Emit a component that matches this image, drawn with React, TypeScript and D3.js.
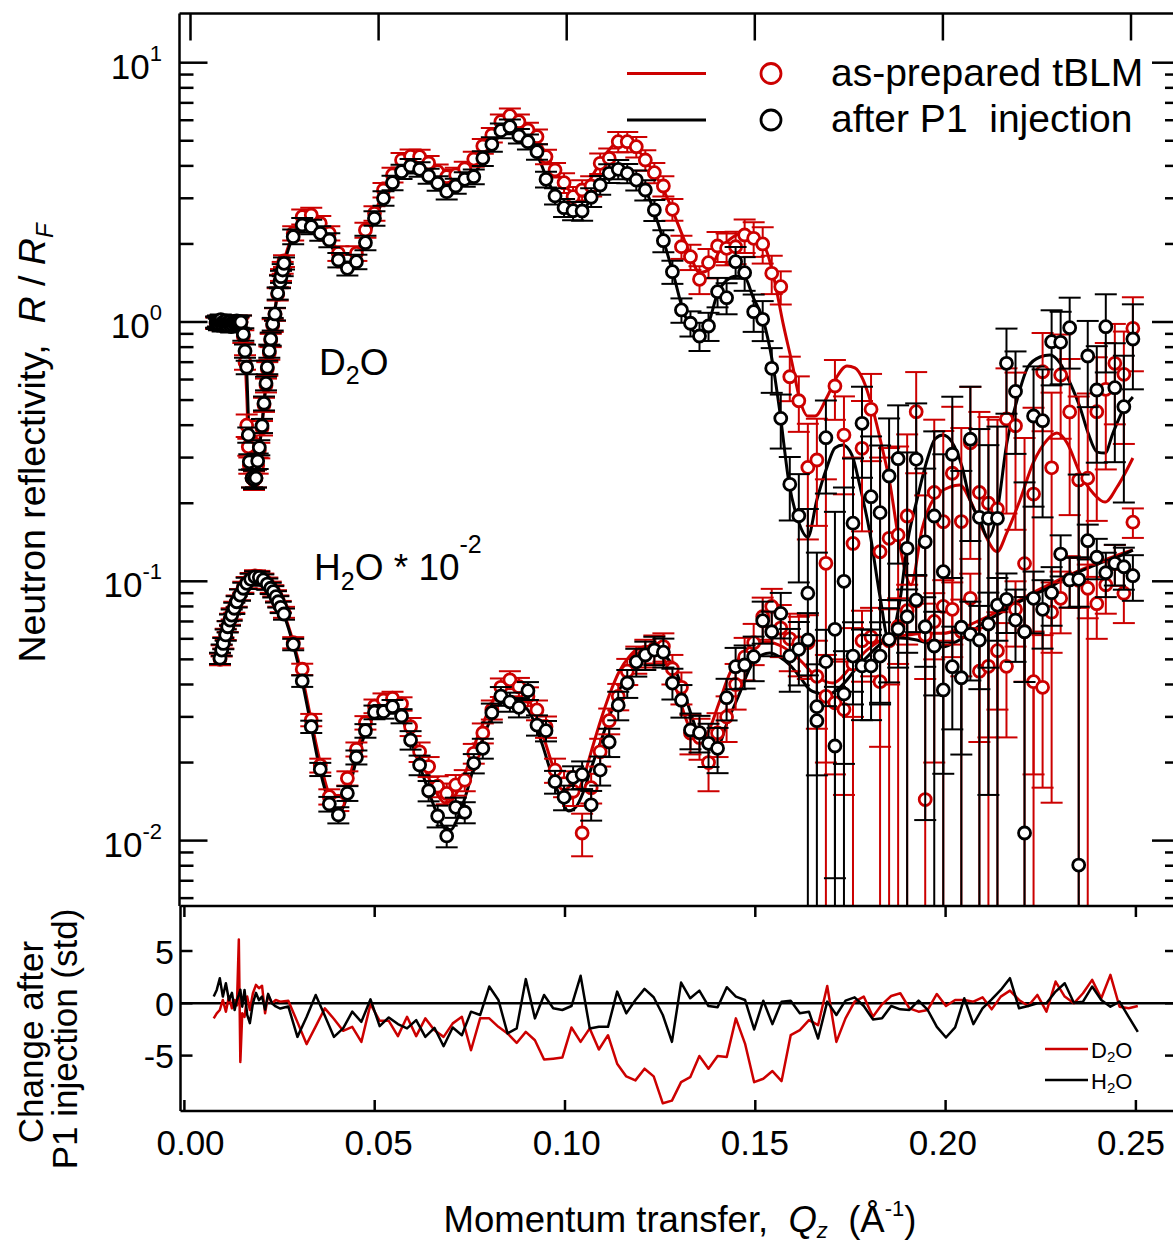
import React from "react";
import * as d3 from "d3";

// ---------------- DATA ----------------
// Momentum transfer grid shared by both contrasts (Å^-1)
const qGrid = [
  0.0273, 0.0297, 0.0321, 0.0345, 0.0369, 0.0393, 0.0417, 0.0441, 0.0465, 0.0489,
  0.0513, 0.0537, 0.0561, 0.0585, 0.0609, 0.0633, 0.0657, 0.0681, 0.0705, 0.0729,
  0.0753, 0.0777, 0.0801, 0.0825, 0.0849, 0.0873, 0.0897, 0.0921, 0.0945, 0.0969,
  0.0993, 0.1017, 0.1041, 0.1065, 0.1089, 0.1113, 0.1137, 0.1161, 0.1185, 0.1209,
  0.1233, 0.1257, 0.1281, 0.1305, 0.1329, 0.1353, 0.1377, 0.1401, 0.1425, 0.1449,
  0.1473, 0.1497, 0.1521, 0.1545, 0.1569, 0.1593, 0.1617, 0.1641, 0.1665, 0.1689,
  0.1713, 0.1737, 0.1761, 0.1785, 0.1809, 0.1833, 0.1857, 0.1881, 0.1905, 0.1929,
  0.1953, 0.1977, 0.2001, 0.2025, 0.2049, 0.2073, 0.2097, 0.2121, 0.2145, 0.2169,
  0.2193, 0.2217, 0.2241, 0.2265, 0.2289, 0.2313, 0.2337, 0.2361, 0.2385, 0.2409,
  0.2433, 0.2457, 0.2481, 0.2505,
];

// D2O low-Q points (critical-edge region)
const qD2OLow = [
  0.0068, 0.00705, 0.0073, 0.00755, 0.0078, 0.00805, 0.0083, 0.00855, 0.0088, 0.00905,
  0.0093, 0.00955, 0.0098, 0.01005, 0.0103, 0.01055, 0.0108, 0.01105, 0.0113, 0.01155,
  0.0118, 0.01205, 0.0123, 0.01255, 0.0128,
  0.01343, 0.01404, 0.01449, 0.01494, 0.01536, 0.01563, 0.01635, 0.01688, 0.01741, 0.01786,
  0.01829, 0.01901, 0.01954, 0.02007, 0.02041, 0.02095, 0.02132, 0.02185, 0.02246, 0.02318,
  0.02379, 0.02406, 0.02451, 0.02485,
];
const d2oAfterLow = [
  1.0, 0.99, 1.01, 0.98, 1.0, 1.02, 0.99, 0.97, 1.0, 0.98,
  1.01, 0.99, 0.97, 0.99, 1.0, 0.98, 0.96, 0.99, 0.97, 1.0,
  0.98, 0.99, 1.01, 0.99, 1.0,
  1.0, 0.897, 0.773, 0.669, 0.367, 0.289, 0.25, 0.247, 0.25, 0.291,
  0.328, 0.398, 0.486, 0.58, 0.669, 0.773, 0.86, 0.982, 1.074, 1.29,
  1.43, 1.495, 1.587, 1.684,
];
const d2oPrepLow = [
  0.99, 1.0, 1.0, 0.99, 1.01, 1.0, 0.98, 0.99, 1.0, 0.99,
  0.98, 1.0, 0.98, 1.0, 0.99, 0.97, 0.98, 1.0, 0.98, 0.99,
  0.99, 1.0, 1.0, 0.98, 0.99,
  1.0, 0.88, 0.7, 0.4, 0.33, 0.28, 0.25, 0.245, 0.25, 0.28,
  0.32, 0.39, 0.48, 0.57, 0.66, 0.76, 0.85, 0.97, 1.07, 1.28,
  1.44, 1.52, 1.62, 1.72,
];
const d2oLowErr = [
  0.05, 0.05, 0.05, 0.05, 0.05, 0.05, 0.05, 0.05, 0.05, 0.05,
  0.05, 0.05, 0.05, 0.05, 0.05, 0.05, 0.05, 0.05, 0.05, 0.05,
  0.05, 0.05, 0.05, 0.05, 0.05,
  0.06, 0.05, 0.045, 0.04, 0.025, 0.02, 0.02, 0.02, 0.02, 0.02,
  0.022, 0.025, 0.03, 0.035, 0.04, 0.045, 0.05, 0.055, 0.06, 0.07,
  0.08, 0.08, 0.085, 0.09,
];

const d2oAfter = [
  2.133, 2.366, 2.331, 2.198, 2.071, 1.734, 1.611, 1.708, 2.022, 2.512,
  3.0, 3.445, 3.8, 3.996, 3.88, 3.656, 3.426, 3.18, 3.345, 3.55,
  3.635, 4.28, 4.845, 5.47, 5.665, 5.215, 4.96, 4.537, 3.55, 3.062,
  2.76, 2.687, 2.68, 3.027, 3.376, 3.745, 3.88, 3.745, 3.528, 3.229,
  2.704, 2.058, 1.563, 1.113, 0.989, 0.883, 0.965, 1.309, 1.241, 1.708,
  1.549, 1.096, 1.024, 0.663, 0.425, 0.2366, 0.179, 0.09, 0.029, 0.358,
  0.0653, 0.1, 0.1675, 0.4068, 0.212, 0.184, 0.2547, 0.297, 0.134, 0.2954,
  0.142, 0.1786, 0.1089, 0.309, 0.0665, 0.353, 0.1765, 0.175, 0.175, 0.693,
  0.54, 0.0107, 0.434, 0.4164, 0.8396, 0.835, 0.951, 0.00805, 0.7395, 0.5467,
  0.959, 0.558, 0.4713, 0.86,
];
const d2oAfterErr = [
  0.14, 0.15, 0.15, 0.14, 0.13, 0.11, 0.1, 0.11, 0.13, 0.16,
  0.19, 0.22, 0.24, 0.26, 0.25, 0.24, 0.22, 0.21, 0.22, 0.23,
  0.24, 0.28, 0.31, 0.36, 0.37, 0.34, 0.33, 0.31, 0.25, 0.22,
  0.22, 0.22, 0.22, 0.25, 0.28, 0.31, 0.33, 0.32, 0.31, 0.29,
  0.25, 0.2, 0.16, 0.12, 0.11, 0.11, 0.12, 0.17, 0.17, 0.24,
  0.23, 0.18, 0.18, 0.13, 0.1, 0.065, 0.08, 0.1, 0.1, 0.14,
  0.12, 0.13, 0.13, 0.156, 0.15, 0.15, 0.17, 0.18, 0.18, 0.19,
  0.13, 0.2, 0.2, 0.206, 0.2, 0.21, 0.21, 0.16, 0.22, 0.25,
  0.23, 0.23, 0.24, 0.24, 0.27, 0.26, 0.29, 0.25, 0.27, 0.26,
  0.32, 0.27, 0.27, 0.31,
];
const d2oPrep = [
  2.2, 2.547, 2.586, 2.402, 2.2, 1.84, 1.734, 1.84, 2.263, 2.627,
  3.229, 3.69, 4.21, 4.35, 4.34, 4.1, 3.8, 3.635, 3.69, 3.9,
  4.25, 4.77, 5.26, 5.924, 6.246, 5.924, 5.502, 5.184, 4.34, 3.857,
  3.445, 3.043, 3.229, 3.345, 4.093, 4.28, 4.96, 4.96, 4.743, 4.214,
  3.766, 3.345, 2.72, 1.951, 1.786, 1.461, 1.693, 1.964, 1.924, 1.951,
  2.165, 2.103, 2.0, 1.541, 1.368, 0.615, 0.497, 0.275, 0.2936, 0.1173,
  0.5665, 0.3665, 0.14, 0.3258, 0.4606, 0.13, 0.1465, 0.151, 0.1786, 0.451,
  0.0144, 0.22, 0.1698, 0.261, 0.17, 0.342, 0.22, 0.2, 0.19, 0.4225,
  0.398, 0.117, 0.217, 0.643, 0.274, 0.6246, 0.45, 0.246, 0.25, 0.451,
  0.55, 0.693, 0.6286, 0.9456,
];
const d2oPrepErr = [
  0.14, 0.17, 0.17, 0.16, 0.14, 0.12, 0.11, 0.12, 0.15, 0.17,
  0.21, 0.24, 0.27, 0.28, 0.28, 0.27, 0.25, 0.24, 0.24, 0.25,
  0.28, 0.31, 0.34, 0.39, 0.41, 0.39, 0.36, 0.34, 0.28, 0.25,
  0.3, 0.27, 0.29, 0.3, 0.37, 0.39, 0.45, 0.45, 0.43, 0.38,
  0.34, 0.3, 0.26, 0.2, 0.2, 0.18, 0.22, 0.26, 0.27, 0.28,
  0.32, 0.32, 0.32, 0.26, 0.2, 0.12, 0.12, 0.13, 0.13, 0.13,
  0.147, 0.15, 0.16, 0.17, 0.17, 0.17, 0.18, 0.18, 0.19, 0.19,
  0.2, 0.2, 0.21, 0.21, 0.22, 0.22, 0.23, 0.23, 0.23, 0.24,
  0.24, 0.24, 0.25, 0.264, 0.26, 0.27, 0.27, 0.27, 0.28, 0.28,
  0.28, 0.29, 0.29, 0.3,
];

// H2O contrast (raw R/RF; plotted × 10^-2)
const H2O_FACTOR = 1e-2;
const qH2OLow = [
  0.00784, 0.00829, 0.00872, 0.00936, 0.00989, 0.0105, 0.01095, 0.01164, 0.01228, 0.01316,
  0.01404, 0.01494, 0.016, 0.01714, 0.01829, 0.01935, 0.02041, 0.02132, 0.02201, 0.02273,
  0.02334, 0.02398, 0.02485,
];
const h2oAfterLow = [
  5.05, 5.43, 5.76, 6.21, 6.68, 7.09, 7.41, 7.87, 8.34, 8.85,
  9.4, 9.82, 10.18, 10.41, 10.36, 10.12, 9.76, 9.4, 9.12, 8.72,
  8.34, 7.94, 7.48,
];
const h2oPrepLow = [
  5.0, 5.4, 5.8, 6.25, 6.7, 7.15, 7.5, 7.95, 8.4, 8.9,
  9.5, 9.9, 10.25, 10.5, 10.45, 10.2, 9.85, 9.5, 9.2, 8.8,
  8.4, 8.0, 7.6,
];
const h2oLowErr = [
  0.25, 0.27, 0.29, 0.31, 0.33, 0.35, 0.37, 0.39, 0.42, 0.44,
  0.47, 0.49, 0.51, 0.52, 0.52, 0.51, 0.49, 0.47, 0.46, 0.44,
  0.42, 0.4, 0.37,
];
const h2oAfter = [
  5.71, 4.125, 2.75, 1.884, 1.384, 1.255, 1.522, 2.096, 2.653, 3.127,
  3.143, 3.285, 3.023, 2.443, 1.957, 1.557, 1.244, 1.042, 1.344, 1.286,
  1.986, 2.27, 3.115, 3.61, 3.43, 3.266, 3.786, 2.79, 2.653, 1.687,
  1.469, 1.754, 1.8, 1.374, 1.87, 2.4, 3.33, 4.05, 4.89, 5.2,
  5.43, 5.33, 4.05, 3.48, 2.67, 2.607, 2.372, 2.27, 3.557, 4.685,
  4.756, 5.119, 7.047, 6.39, 7.52, 5.15, 5.467, 5.937, 3.285, 4.9,
  2.316, 3.676, 5.15, 4.714, 4.714, 5.15, 5.975, 6.546, 7.3, 8.47,
  6.68, 5.63, 3.81, 4.685, 4.247, 6.245, 5.937, 6.843, 8.1, 8.52,
  7.09, 6.39, 8.6, 7.8, 9.04, 12.74, 10.12, 10.18, 14.34, 12.38,
  10.79, 11.73, 11.38, 10.51,
];
const h2oAfterErr = [
  0.29, 0.21, 0.15, 0.11, 0.09, 0.09, 0.1, 0.13, 0.16, 0.19,
  0.19, 0.2, 0.19, 0.2, 0.17, 0.14, 0.12, 0.1, 0.12, 0.12,
  0.17, 0.2, 0.26, 0.3, 0.29, 0.28, 0.3, 0.25, 0.24, 0.17,
  0.16, 0.18, 0.22, 0.18, 0.24, 0.3, 0.42, 0.5, 0.6, 0.65,
  0.68, 0.68, 0.55, 0.5, 0.42, 0.42, 0.45, 0.45, 0.65, 0.85,
  0.9, 1.0, 1.3, 1.25, 1.5, 1.4, 1.5, 1.6, 1.5, 1.6,
  1.6, 1.7, 1.8, 1.8, 1.8, 1.8, 1.9, 1.9, 2.0, 2.1,
  2.0, 2.0, 2.0, 2.0, 2.1, 2.1, 2.1, 2.2, 2.2, 2.2,
  2.2, 2.3, 2.3, 2.3, 2.3, 2.3, 2.2, 2.2, 2.2, 2.2,
  2.1, 2.1, 2.1, 2.1,
];
const h2oPrep = [
  5.8, 4.58, 2.92, 1.95, 1.477, 1.4, 1.74, 2.25, 2.85, 3.3,
  3.485, 3.54, 3.37, 2.75, 2.2, 1.93, 1.62, 1.52, 1.64, 1.71,
  2.17, 2.6, 3.2, 3.9, 4.17, 3.92, 3.6, 3.19, 2.75, 1.87,
  1.66, 1.55, 1.07, 1.6, 2.2, 2.9, 3.6, 4.5, 5.0, 5.3,
  5.5, 5.6, 4.6, 3.9, 2.6, 2.5, 2.0, 2.6, 3.0, 4.0,
  5.1, 5.8, 7.3, 8.0, 6.6, 6.0, 5.8, 5.8, 4.3, 3.6,
  3.4, 3.2, 4.8, 5.9, 6.1, 4.1, 5.9, 6.7, 7.7, 8.4,
  6.2, 7.0, 8.0, 7.8, 6.4, 8.6, 4.5, 4.7, 5.4, 4.7,
  7.8, 6.4, 4.1, 3.9, 7.6, 8.6, 10.2, 10.1, 9.4, 8.2,
  9.7, 11.7, 9.0, 16.9,
];
const h2oPrepErr = [
  0.29, 0.23, 0.16, 0.12, 0.1, 0.1, 0.11, 0.14, 0.17, 0.2,
  0.21, 0.21, 0.2, 0.22, 0.19, 0.17, 0.15, 0.14, 0.15, 0.16,
  0.19, 0.23, 0.27, 0.32, 0.33, 0.32, 0.3, 0.28, 0.26, 0.2,
  0.19, 0.19, 0.2, 0.21, 0.27, 0.33, 0.42, 0.52, 0.6, 0.65,
  0.68, 0.7, 0.6, 0.55, 0.45, 0.45, 0.45, 0.5, 0.6, 0.8,
  0.95, 1.05, 1.35, 1.35, 1.5, 1.5, 1.5, 1.6, 1.6, 1.6,
  1.6, 1.7, 1.8, 1.8, 1.8, 1.8, 1.9, 1.9, 2.0, 2.1,
  2.0, 2.0, 2.1, 2.1, 2.1, 2.1, 2.1, 2.2, 2.2, 2.2,
  2.2, 2.3, 2.3, 2.3, 2.3, 2.3, 2.3, 2.2, 2.2, 2.2,
  2.2, 2.1, 2.1, 2.2,
];

// Model fits
const fitD2OAfterQ = [
  0.0068, 0.01, 0.0125, 0.0134, 0.014, 0.0145, 0.015, 0.0154, 0.0158, 0.0163,
  0.0168, 0.0174, 0.018, 0.019, 0.02, 0.021, 0.022, 0.023, 0.024, 0.025,
  0.0265, 0.028, 0.03, 0.032, 0.0345, 0.037, 0.0395, 0.0417, 0.044, 0.0465,
  0.049, 0.0515, 0.054, 0.0565, 0.0585, 0.061, 0.0635, 0.066, 0.068, 0.07,
  0.073, 0.0755, 0.078, 0.0805, 0.083, 0.085, 0.0875, 0.09, 0.0925, 0.095,
  0.0975, 0.1, 0.1025, 0.1045, 0.1065, 0.109, 0.1115, 0.114, 0.1165, 0.119,
  0.1215, 0.1235, 0.126, 0.1285, 0.131, 0.1335, 0.1355, 0.1375, 0.1402, 0.1426,
  0.145, 0.1474, 0.1495, 0.1522, 0.1546, 0.1567, 0.1591, 0.1615, 0.1641, 0.1665,
  0.1692, 0.1713, 0.1734, 0.1758, 0.178, 0.1806, 0.1833, 0.1856, 0.1886, 0.1907,
  0.1931, 0.1958, 0.1979, 0.2, 0.2024, 0.2051, 0.2072, 0.2099, 0.212, 0.2144,
  0.217, 0.2197, 0.2226, 0.2258, 0.2285, 0.2311, 0.2338, 0.2365, 0.2386, 0.241,
  0.2431, 0.2452, 0.2479, 0.2505,
];
const fitD2OAfterR = [
  1.0, 0.995, 0.99, 0.975, 0.9, 0.78, 0.62, 0.42, 0.3, 0.255,
  0.245, 0.255, 0.3, 0.4, 0.57, 0.78, 1.0, 1.25, 1.5, 1.7,
  2.0, 2.22, 2.33, 2.3, 2.18, 2.0, 1.75, 1.64, 1.72, 2.0,
  2.5, 3.0, 3.45, 3.8, 3.95, 3.87, 3.65, 3.4, 3.25, 3.3,
  3.5, 3.75, 4.25, 4.85, 5.4, 5.6, 5.3, 4.9, 4.3, 3.5,
  3.0, 2.75, 2.6, 2.7, 3.0, 3.4, 3.75, 3.85, 3.75, 3.5,
  3.1, 2.6, 2.0, 1.5, 1.1, 0.93, 0.88, 0.97, 1.3, 1.45,
  1.5, 1.48, 1.25, 1.02, 0.714, 0.446, 0.239, 0.172, 0.148, 0.206,
  0.276, 0.3266, 0.3354, 0.307, 0.231, 0.1536, 0.087, 0.0595, 0.0847, 0.1443,
  0.206, 0.2936, 0.3538, 0.3666, 0.3445, 0.276, 0.206, 0.172, 0.147, 0.185,
  0.3415, 0.5, 0.67, 0.733, 0.746, 0.695, 0.582, 0.466, 0.373, 0.315,
  0.3125, 0.373, 0.458, 0.514,
];
const fitD2OPrepQ = [
  0.0068, 0.01, 0.0125, 0.0134, 0.014, 0.0145, 0.015, 0.0154, 0.0158, 0.0163,
  0.0168, 0.0174, 0.018, 0.019, 0.02, 0.021, 0.022, 0.023, 0.024, 0.025,
  0.0265, 0.028, 0.03, 0.032, 0.0345, 0.037, 0.0395, 0.0417, 0.044, 0.0465,
  0.049, 0.0515, 0.054, 0.0565, 0.059, 0.0615, 0.064, 0.0665, 0.0685, 0.0705,
  0.073, 0.0755, 0.078, 0.0805, 0.083, 0.085, 0.0875, 0.09, 0.0925, 0.095,
  0.0975, 0.1, 0.1025, 0.1045, 0.107, 0.1095, 0.112, 0.1145, 0.117, 0.1195,
  0.122, 0.1245, 0.127, 0.1295, 0.132, 0.1354, 0.138, 0.1408, 0.1443, 0.148,
  0.1509, 0.1533, 0.1554, 0.1575, 0.1599, 0.162, 0.1641, 0.166, 0.1692, 0.1718,
  0.1745, 0.1766, 0.1788, 0.1814, 0.1838, 0.1859, 0.1881, 0.1915, 0.1945, 0.1974,
  0.2019, 0.2045, 0.2072, 0.2106, 0.2144, 0.217, 0.2205, 0.224, 0.2277, 0.2303,
  0.233, 0.2364, 0.2399, 0.2431, 0.2463, 0.2505,
];
const fitD2OPrepR = [
  1.0, 0.995, 0.99, 0.975, 0.88, 0.72, 0.5, 0.35, 0.28, 0.25,
  0.245, 0.255, 0.3, 0.4, 0.57, 0.78, 1.0, 1.26, 1.52, 1.75,
  2.05, 2.35, 2.52, 2.52, 2.38, 2.12, 1.86, 1.76, 1.84, 2.2,
  2.65, 3.2, 3.7, 4.1, 4.3, 4.28, 4.05, 3.78, 3.66, 3.72,
  3.95, 4.3, 4.8, 5.35, 5.9, 6.15, 5.95, 5.5, 5.0, 4.3,
  3.75, 3.3, 3.1, 3.25, 3.7, 4.25, 4.75, 4.95, 4.85, 4.5,
  4.0, 3.5, 2.95, 2.4, 1.95, 1.55, 1.6, 1.9, 2.13, 2.22,
  2.13, 1.85, 1.41, 0.99, 0.695, 0.5, 0.434, 0.434, 0.514, 0.614,
  0.677, 0.665, 0.598, 0.458, 0.33, 0.239, 0.15, 0.097, 0.16, 0.206,
  0.231, 0.235, 0.206, 0.158, 0.13, 0.154, 0.206, 0.286, 0.351, 0.373,
  0.342, 0.262, 0.219, 0.202, 0.231, 0.299,
];
const fitH2OAfterQ = [
  0.0078, 0.009, 0.0105, 0.012, 0.0135, 0.015, 0.0165, 0.0178, 0.019, 0.0205,
  0.022, 0.0235, 0.025, 0.0273, 0.0297, 0.0321, 0.0345, 0.0369, 0.0385, 0.04,
  0.042, 0.0441, 0.0465, 0.0489, 0.0513, 0.0537, 0.0561, 0.0585, 0.0609, 0.0633,
  0.0657, 0.0675, 0.0692, 0.071, 0.0735, 0.076, 0.0785, 0.081, 0.0835, 0.086,
  0.0885, 0.091, 0.0935, 0.096, 0.0985, 0.1005, 0.1025, 0.1045, 0.1065, 0.109,
  0.1115, 0.114, 0.1165, 0.119, 0.1215, 0.124, 0.1265, 0.129, 0.1315, 0.134,
  0.136, 0.138, 0.1402, 0.1426, 0.146, 0.1487, 0.1508, 0.154, 0.1567, 0.1593,
  0.162, 0.1647, 0.1668, 0.1692, 0.1718, 0.1745, 0.1772, 0.1798, 0.1825, 0.1851,
  0.1886, 0.1931, 0.1974, 0.2, 0.2027, 0.2064, 0.2107, 0.2152, 0.2197, 0.224,
  0.2285, 0.233, 0.2372, 0.2418, 0.2463, 0.2505,
];
const fitH2OAfterR = [
  5.0, 5.9, 7.1, 8.2, 9.1, 9.8, 10.3, 10.4, 10.2, 9.75,
  9.1, 8.2, 7.3, 5.7, 4.1, 2.75, 1.85, 1.4, 1.28, 1.3,
  1.55, 2.05, 2.6, 3.05, 3.2, 3.2, 2.95, 2.45, 1.95, 1.55,
  1.25, 1.12, 1.1, 1.22, 1.55, 2.1, 2.65, 3.2, 3.45, 3.5,
  3.35, 2.95, 2.35, 1.8, 1.45, 1.3, 1.35, 1.55, 1.9, 2.4,
  3.05, 3.8, 4.5, 5.0, 5.3, 5.35, 5.1, 4.5, 3.6, 2.8,
  2.4, 2.25, 2.3, 2.84, 3.71, 4.63, 5.1, 5.29, 5.1, 4.755,
  4.276, 3.81, 3.71, 3.643, 3.81, 4.163, 4.67, 5.1, 5.58, 5.94,
  6.04, 5.94, 5.68, 5.58, 5.77, 6.2, 6.9, 7.54, 8.25, 8.86,
  9.5, 10.39, 11.05, 11.76, 12.4, 13.2,
];
const fitH2OPrepQ = [
  0.0078, 0.009, 0.0105, 0.012, 0.0135, 0.015, 0.0165, 0.0178, 0.019, 0.0205,
  0.022, 0.0235, 0.025, 0.0273, 0.0297, 0.0321, 0.0345, 0.0369, 0.0385, 0.04,
  0.042, 0.0441, 0.0465, 0.0489, 0.0513, 0.0537, 0.0561, 0.0585, 0.0609, 0.0633,
  0.0657, 0.0675, 0.0692, 0.071, 0.0735, 0.076, 0.0785, 0.081, 0.0835, 0.086,
  0.0885, 0.091, 0.0935, 0.096, 0.0985, 0.1005, 0.1025, 0.1045, 0.1065, 0.109,
  0.1115, 0.114, 0.1165, 0.119, 0.1215, 0.124, 0.1265, 0.129, 0.1315, 0.1335,
  0.1354, 0.138, 0.1405, 0.1434, 0.146, 0.1487, 0.1532, 0.1575, 0.162, 0.1665,
  0.1708, 0.1753, 0.1798, 0.1851, 0.1904, 0.1958, 0.2, 0.205, 0.21, 0.215,
  0.22, 0.225, 0.23, 0.235, 0.24, 0.245, 0.2505,
];
const fitH2OPrepR = [
  5.0, 5.9, 7.15, 8.25, 9.15, 9.85, 10.35, 10.45, 10.25, 9.8,
  9.15, 8.25, 7.4, 5.85, 4.3, 2.9, 2.0, 1.5, 1.38, 1.42,
  1.7, 2.2, 2.8, 3.25, 3.45, 3.45, 3.2, 2.7, 2.15, 1.75,
  1.5, 1.4, 1.42, 1.55, 1.9, 2.45, 3.0, 3.6, 3.95, 4.0,
  3.75, 3.25, 2.6, 2.0, 1.6, 1.45, 1.5, 1.75, 2.2, 2.9,
  3.7, 4.5, 5.1, 5.5, 5.6, 5.4, 4.8, 3.9, 3.0, 2.55,
  2.38, 2.7, 3.4, 4.43, 5.1, 5.58, 5.83, 5.58, 4.97, 4.28,
  4.05, 4.63, 5.43, 6.04, 6.2, 6.3, 6.3, 6.6, 7.1, 7.7,
  8.4, 9.2, 10.0, 10.8, 11.6, 12.4, 13.2,
];

// Lower panel: change after P1 injection (in standard deviations)
const qChangeLow = [
  0.0077, 0.0085, 0.0093, 0.0101, 0.0109, 0.0117, 0.0125, 0.0132, 0.0138, 0.0143,
  0.0147, 0.0152, 0.0158, 0.0165, 0.0172, 0.018, 0.0188, 0.0196, 0.0204, 0.0212,
  0.022, 0.023, 0.024, 0.0252, 0.0262,
];
const changeD2OLow = [
  -1.44, -0.96, -0.64, 0.32, -0.8, 0.64, -0.48, 0.32, -0.2, 6.09,
  -5.6, -0.96, -1.3, 0.64, -0.64, 0.96, 1.76, 1.44, 1.67, -0.96,
  0.8, 0, 0.32, 0.16, 0.2,
];
const changeH2OLow = [
  0.64, 1.28, 2.4, 0.64, 1.92, 0.3, 1.0, -0.64, 0.32, 0.8,
  1.3, -0.32, 1.28, -1.1, -1.9, 0, 1.0, 0.3, 0.64, -0.6,
  0.9, 0, -0.3, -0.5, -0.4,
];
const changeD2O = [
  0.25, -1.8, -3.9, -2.2, -0.48, -1.5, -2.63, -2.25, -3.69, -0.07,
  -1.67, -1.67, -3.14, -1.29, -3.14, -1.44, -2.57, -3.21, -1.92, -1.29,
  -4.49, -1.44, -1.44, -2.25, -2.88, -3.79, -2.73, -3.53, -5.38, -5.29,
  -5.19, -2.31, -3.69, -2.4, -4.42, -3.05, -5.77, -6.99, -7.37, -6.25,
  -6.99, -9.56, -9.3, -7.54, -7.06, -5.04, -6.25, -5.04, -5.13, -1.44,
  -3.85, -7.54, -7.21, -6.48, -7.44, -3.05, -2.57, -1.61, -2.09, 1.66,
  -3.69, -1.44, 0.16, 0.64, -1.29, -0.1, 0.7, 0.96, -0.48, -0.8,
  -0.64, 0.89, -0.26, 0.32, 0.32, 0.16, 0.57, -0.58, 0.64, 1.21,
  0.32, -0.26, 0.8, -0.8, 2.08, 0.64, 0, 0.96, 2.24, 0.48,
  2.72, -0.33, -0.48, -0.26,
];
const changeH2O = [
  -0.3, -3.21, -1.3, 0.8, -1.2, -3.21, -2.4, -0.8, -1.77, 0.38,
  -2.18, -1.35, -1.99, -2.4, -1.61, -3.21, -2.34, -4.1, -2.31, -3.05,
  -0.8, -1.12, 1.6, 0.32, -2.88, -2.4, 2.31, -1.44, 0.8, -0.48,
  -0.64, -0.26, 2.63, -2.4, -2.25, -2.25, 1.12, -0.96, 0.32, 1.38,
  0.58, -1.12, -3.69, 1.98, 0.48, 1.21, -0.26, -0.38, 1.54, 0.64,
  0.32, -2.5, 0.25, -1.99, 0.16, 0.25, -0.96, -0.8, -3.37, 0.16,
  -1.12, 0.25, 0.57, -0.26, -1.54, -1.44, -0.26, -0.58, -0.64, 0.25,
  -0.64, -2.25, -3.27, -2.31, 0.48, -1.99, -0.48, 0.38, 1.28, 2.4,
  -0.48, -0.26, 0, 0, 1.12, 1.92, 0.06, 0.16, 1.6, 0.32,
  -0.33, 0.16, -1.29, -2.73,
];

const xTickValues = [0, 0.05, 0.1, 0.15, 0.2, 0.25];
const xTickLabels = ["0.00", "0.05", "0.10", "0.15", "0.20", "0.25"];
const yMajorExp = [1, 0, -1, -2];
const yBotTicks = [5, 0, -5];
const yBotLabels = ["5", "0", "-5"];

// ---------------- STYLE ----------------
const RED = "#cc0000";
const BLACK = "#000000";
const FONT = "'Liberation Sans', Arial, Helvetica, sans-serif";

type Pt = { q: number; v: number; s: number };

function zip(q: number[], v: number[], s: number[], f = 1): Pt[] {
  return q.map((qq, i) => ({ q: qq, v: v[i] * f, s: s[i] * f }));
}

export default function App() {
  const xTop = d3.scaleLinear().domain([0, 0.25]).range([190.5, 1131]);
  const yTop = d3.scaleLog().domain([10, 0.01]).range([62.7, 840.6]);
  const xBot = d3.scaleLinear().domain([0, 0.25]).range([184.4, 1135.9]);
  const yBot = d3.scaleLinear().domain([5, -5]).range([951, 1055.6]);

  const T = { l: 179.5, r: 1177, t: 13.5, b: 906 };
  const B = { l: 180.5, r: 1177, t: 906, b: 1111 };

  const d2oA = zip([...qD2OLow, ...qGrid], [...d2oAfterLow, ...d2oAfter], [...d2oLowErr, ...d2oAfterErr]);
  const d2oP = zip([...qD2OLow, ...qGrid], [...d2oPrepLow, ...d2oPrep], [...d2oLowErr, ...d2oPrepErr]);
  const h2oA = zip([...qH2OLow, ...qGrid], [...h2oAfterLow, ...h2oAfter], [...h2oLowErr, ...h2oAfterErr], H2O_FACTOR);
  const h2oP = zip([...qH2OLow, ...qGrid], [...h2oPrepLow, ...h2oPrep], [...h2oLowErr, ...h2oPrepErr], H2O_FACTOR);

  const fitLine = d3
    .line<[number, number]>()
    .x((d) => xTop(d[0]))
    .y((d) => yTop(d[1]))
    .curve(d3.curveMonotoneX);
  const mk = (q: number[], r: number[], f = 1) => fitLine(q.map((qq, i) => [qq, r[i] * f] as [number, number])) || "";

  const chgLine = d3
    .line<[number, number]>()
    .x((d) => xBot(d[0]))
    .y((d) => yBot(d[1]));
  const qChg = [...qChangeLow, ...qGrid];
  const chgDAll = [...changeD2OLow, ...changeD2O];
  const chgHAll = [...changeH2OLow, ...changeH2O];
  const chgD = chgLine(qChg.map((q, i) => [q, chgDAll[i]] as [number, number])) || "";
  const chgH = chgLine(qChg.map((q, i) => [q, chgHAll[i]] as [number, number])) || "";

  const CAP = 11;
  const errBars = (pts: Pt[], color: string, key: string) => (
    <g key={key} stroke={color} strokeWidth={2} fill="none">
      {pts.map((p, i) => {
        const x = xTop(p.q);
        const yHi = yTop(p.v + p.s);
        const lo = p.v - p.s;
        const yLo = lo > 0 ? yTop(lo) : T.b + 50;
        return (
          <g key={i}>
            <line x1={x} x2={x} y1={yHi} y2={yLo} />
            <line x1={x - CAP} x2={x + CAP} y1={yHi} y2={yHi} />
            {lo > 0 && <line x1={x - CAP} x2={x + CAP} y1={yLo} y2={yLo} />}
          </g>
        );
      })}
    </g>
  );
  const markers = (pts: Pt[], color: string, key: string) => (
    <g key={key} stroke={color} strokeWidth={2.8} fill="#fff">
      {pts.map((p, i) => (
        <circle key={i} cx={xTop(p.q)} cy={yTop(p.v)} r={6} />
      ))}
    </g>
  );

  // log minor ticks
  const minor: number[] = [];
  [0.001, 0.01, 0.1, 1].forEach((dec) => {
    for (let m = 2; m <= 9; m++) {
      const v = dec * m;
      const y = yTop(v);
      if (y > T.t && y < T.b) minor.push(v);
    }
  });
  const majors = yMajorExp.map((e) => Math.pow(10, e));

  return (
    <svg
      width={1173}
      height={1247}
      style={{ position: "absolute", left: 0, top: 0, background: "#fff" }}
      fontFamily={FONT}
    >
      <defs>
        <clipPath id="clipTop">
          <rect x={T.l} y={T.t} width={T.r - T.l} height={T.b - T.t} />
        </clipPath>
        <clipPath id="clipBot">
          <rect x={B.l} y={B.t} width={B.r - B.l} height={B.b - B.t} />
        </clipPath>
      </defs>
      <rect x={0} y={0} width={1173} height={1247} fill="#fff" />

      {/* ---------- top panel data ---------- */}
      <g clipPath="url(#clipTop)">
        <g fill="none" strokeWidth={3} strokeLinejoin="round">
          <path d={mk(fitD2OPrepQ, fitD2OPrepR)} stroke={RED} />
          <path d={mk(fitH2OPrepQ, fitH2OPrepR, H2O_FACTOR)} stroke={RED} />
          <path d={mk(fitD2OAfterQ, fitD2OAfterR)} stroke={BLACK} />
          <path d={mk(fitH2OAfterQ, fitH2OAfterR, H2O_FACTOR)} stroke={BLACK} />
        </g>
        {errBars(d2oP, RED, "e1")}
        {errBars(h2oP, RED, "e2")}
        {markers(d2oP, RED, "m1")}
        {markers(h2oP, RED, "m2")}
        {errBars(d2oA, BLACK, "e3")}
        {errBars(h2oA, BLACK, "e4")}
        {markers(d2oA, BLACK, "m3")}
        {markers(h2oA, BLACK, "m4")}
      </g>

      {/* ---------- top panel frame ---------- */}
      <g stroke="#000" strokeWidth={2.5} fill="none">
        <line x1={T.l} x2={T.l} y1={T.t} y2={T.b} />
        <line x1={T.l} x2={T.r} y1={T.t} y2={T.t} />
        <line x1={T.r} x2={T.r} y1={T.t} y2={T.b} />
        {xTickValues.map((v, i) => (
          <line key={"tt" + i} x1={xTop(v)} x2={xTop(v)} y1={T.t} y2={T.t + 27} />
        ))}
        {majors.map((v, i) => (
          <g key={"ym" + i}>
            <line x1={T.l} x2={T.l + 28} y1={yTop(v)} y2={yTop(v)} />
            <line x1={T.r} x2={T.r - 25} y1={yTop(v)} y2={yTop(v)} />
          </g>
        ))}
        {minor.map((v, i) => (
          <g key={"yn" + i}>
            <line x1={T.l} x2={T.l + 14} y1={yTop(v)} y2={yTop(v)} />
            <line x1={T.r} x2={T.r - 12} y1={yTop(v)} y2={yTop(v)} />
          </g>
        ))}
      </g>
      {yMajorExp.map((e, i) => (
        <text key={"yl" + i} x={162} y={yTop(Math.pow(10, e)) + 16} fontSize={35} textAnchor="end">
          10
          <tspan fontSize={22} dy={-18}>
            {String(e)}
          </tspan>
        </text>
      ))}

      {/* labels in the top panel */}
      <text x={319} y={375} fontSize={37}>
        D<tspan fontSize={25} dy={9}>2</tspan>
        <tspan dy={-9}>O</tspan>
      </text>
      <text x={314} y={580} fontSize={37} style={{ whiteSpace: "pre" }}>
        H<tspan fontSize={25} dy={10}>2</tspan>
        <tspan dy={-10}>{"O * 10"}</tspan>
        <tspan fontSize={25} dy={-27}>-2</tspan>
      </text>

      {/* legend */}
      <g strokeWidth={3}>
        <line x1={627} x2={706} y1={73.5} y2={73.5} stroke={RED} />
        <line x1={627} x2={706} y1={120} y2={120} stroke={BLACK} />
        <circle cx={771} cy={73.5} r={10} fill="#fff" stroke={RED} strokeWidth={2.8} />
        <circle cx={771} cy={120} r={10} fill="#fff" stroke={BLACK} strokeWidth={2.8} />
      </g>
      <text x={831} y={86} fontSize={39}>as-prepared tBLM</text>
      <text x={831} y={132} fontSize={39} style={{ whiteSpace: "pre" }}>{"after P1  injection"}</text>

      {/* ---------- bottom panel ---------- */}
      <line x1={B.l} x2={B.r} y1={yBot(0)} y2={yBot(0)} stroke="#000" strokeWidth={2.5} />
      <g clipPath="url(#clipBot)" fill="none" strokeWidth={2.5} strokeLinejoin="round">
        <path d={chgD} stroke={RED} />
        <path d={chgH} stroke={BLACK} />
      </g>
      <g stroke="#000" strokeWidth={2.5} fill="none">
        <line x1={B.l} x2={B.r} y1={B.t} y2={B.t} />
        <line x1={B.l} x2={B.r} y1={B.b} y2={B.b} />
        <line x1={B.l} x2={B.l} y1={B.t} y2={B.b} />
        <line x1={B.r} x2={B.r} y1={B.t} y2={B.b} />
        {xTickValues.map((v, i) => (
          <g key={"bt" + i}>
            <line x1={xBot(v)} x2={xBot(v)} y1={B.t} y2={B.t + 11} />
            <line x1={xBot(v)} x2={xBot(v)} y1={B.b} y2={B.b - 11} />
          </g>
        ))}
        {yBotTicks.map((v, i) => (
          <g key={"by" + i}>
            <line x1={B.l} x2={B.l + 12} y1={yBot(v)} y2={yBot(v)} />
            <line x1={B.r} x2={B.r - 12} y1={yBot(v)} y2={yBot(v)} />
          </g>
        ))}
      </g>
      {yBotTicks.map((v, i) => (
        <text key={"byl" + i} x={174} y={yBot(v) + 12.5} fontSize={34} textAnchor="end">
          {yBotLabels[i]}
        </text>
      ))}
      {/* bottom legend */}
      <line x1={1045} x2={1088} y1={1049} y2={1049} stroke={RED} strokeWidth={2.5} />
      <line x1={1045} x2={1088} y1={1080} y2={1080} stroke={BLACK} strokeWidth={2.5} />
      <text x={1091} y={1058} fontSize={22}>
        D<tspan fontSize={15} dy={4}>2</tspan>
        <tspan dy={-4}>O</tspan>
      </text>
      <text x={1091} y={1089} fontSize={22}>
        H<tspan fontSize={15} dy={4}>2</tspan>
        <tspan dy={-4}>O</tspan>
      </text>

      {/* x tick labels */}
      {xTickValues.map((v, i) => (
        <text key={"xl" + i} x={xTop(v)} y={1155} fontSize={35} textAnchor="middle">
          {xTickLabels[i]}
        </text>
      ))}

      {/* axis titles */}
      <text x={680} y={1232} fontSize={36.5} textAnchor="middle" style={{ whiteSpace: "pre" }}>
        {"Momentum transfer,  "}
        <tspan fontStyle="italic">Q</tspan>
        <tspan fontStyle="italic" fontSize={22} dy={6}>z</tspan>
        <tspan dy={-6}>{"  (Å"}</tspan>
        <tspan fontSize={22} dy={-16}>-1</tspan>
        <tspan dy={16}>)</tspan>
      </text>
      <text transform="translate(45,443) rotate(-90)" fontSize={37.5} textAnchor="middle" style={{ whiteSpace: "pre" }}>
        {"Neutron reflectivity,  "}
        <tspan fontStyle="italic">R</tspan>
        {" / "}
        <tspan fontStyle="italic">R</tspan>
        <tspan fontStyle="italic" fontSize={24} dy={8}>F</tspan>
      </text>
      <text transform="translate(43,1042) rotate(-90)" fontSize={35} textAnchor="middle">
        Change after
      </text>
      <text transform="translate(77,1039) rotate(-90)" fontSize={35} textAnchor="middle">
        P1 injection (std)
      </text>
    </svg>
  );
}
